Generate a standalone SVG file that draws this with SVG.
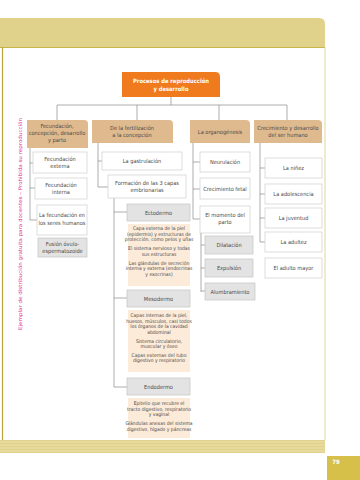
<svg xmlns="http://www.w3.org/2000/svg" width="360" height="480" viewBox="0 0 360 480">
<defs>
<style>
text{font-family:"Liberation Sans Narrow","DejaVu Sans Condensed","Liberation Sans",sans-serif;fill:#4a4a4a;text-anchor:middle;font-size:5.6px}
.l2{fill:#dfba8f}
.wb{fill:#fff;stroke:#cfcfcf;stroke-width:0.7}
.gb{fill:#e3e3e3;stroke:#c4c4c4;stroke-width:0.7}
.pk{fill:#fdebd9}
.c{stroke:#777;stroke-width:0.6;fill:none}
.t{fill:#fff;font-weight:bold;font-size:5.8px}
.p{font-size:5px}
</style>
</defs>
<rect width="360" height="480" fill="#fff"/>
<!-- page frame -->
<g id="frame">
<path d="M0 18 H319 Q325 18 325 24 V47 H0 Z" fill="#e0d28a"/>
<line x1="0" y1="47.5" x2="325" y2="47.5" stroke="#c9b44a" stroke-width="1"/>
<line x1="2.5" y1="47" x2="2.5" y2="440" stroke="#b8a640" stroke-width="1.2"/>
<line x1="325" y1="47" x2="325" y2="440" stroke="#e3d79c" stroke-width="1"/>
<rect x="0" y="440" width="325" height="13" fill="#e2d38c"/>
<g stroke="#efe6bb" stroke-width="0.7">
<line x1="0" y1="442" x2="325" y2="442"/><line x1="0" y1="445" x2="325" y2="445"/><line x1="0" y1="448" x2="325" y2="448"/><line x1="0" y1="451" x2="325" y2="451"/>
</g>
<rect x="327" y="456" width="33" height="24" fill="#d6c04a"/>
<text x="336" y="464" class="t" style="font-size:6px">79</text>
<text transform="translate(22 330) rotate(-90)" x="0" y="0" style="text-anchor:start;fill:#e0308a;font-size:5px" textLength="212" lengthAdjust="spacingAndGlyphs">Ejemplar de distribución gratuita para docentes – Prohibida su reproducción</text>
</g>
<!-- connectors -->
<g id="connectors" class="c">
<path d="M171 97 V105 M57 105 H287 M57 105 V120 M137 105 V120 M219 105 V120 M287 105 V120"/>
<path d="M30 148 V220 M30 163 H33 M30 188 H35 M30 220 H37"/>
<path d="M98 143 V187 M98 161 H102 M98 187 H108"/>
<path d="M114 198 V387 M114 212 H127 M114 298 H127 M114 387 H127"/>
<path d="M193 143 V219 M193 162 H200 M193 189 H200 M193 219 H200"/>
<path d="M201 233 V292 M201 245 H205 M201 268 H205 M201 291 H205"/>
<path d="M260 143 V242 M260 168 H265 M260 194 H265 M260 218 H265 M260 242 H265"/>
</g>
<!-- title -->
<g id="title">
<path d="M122 72 H215 Q220 72 220 77 V97 H122 Z" fill="#f07a1e"/>
<text x="171" y="83" class="t">Procesos de reproducción</text>
<text x="171" y="91" class="t">y desarrollo</text>
</g>
<!-- level 2 -->
<g id="fecundacion">
<path d="M27 120 H84 Q88 120 88 124 V148 H27 Z" class="l2"/>
<text x="57" y="128">Fecundación,</text><text x="57" y="135">concepción, desarrollo</text><text x="57" y="142">y parto</text>
</g>
<g id="fertilizacion">
<path d="M92 120 H169 Q173 120 173 124 V143 H92 Z" class="l2"/>
<text x="132" y="129.5">De la fertilización</text><text x="132" y="136.5">a la concepción</text>
</g>
<g id="organogenesis">
<path d="M190 120 H246 Q250 120 250 124 V143 H190 Z" class="l2"/>
<text x="220" y="133.5">La organogénesis</text>
</g>
<g id="crecimiento">
<path d="M254 120 H318 Q322 120 322 124 V143 H254 Z" class="l2"/>
<text x="288" y="129.5">Crecimiento y desarrollo</text><text x="288" y="136.5">del ser humano</text>
</g>
<!-- column 1 -->
<g id="externa"><rect x="33" y="152" width="54" height="21" class="wb"/><text x="60" y="160.5">Fecundación</text><text x="60" y="167.5">externa</text></g>
<g id="interna"><rect x="35" y="178" width="52" height="21" class="wb"/><text x="61" y="186.5">Fecundación</text><text x="61" y="193.5">interna</text></g>
<g id="humanos"><rect x="37" y="205" width="50" height="30" class="wb"/><text x="62" y="217">La fecundación en</text><text x="62" y="225">los seres humanos</text></g>
<g id="fusion"><rect x="38" y="238" width="49" height="19" class="gb"/><text x="62.5" y="246">Fusión óvulo-</text><text x="62.5" y="253">espermatozoide</text></g>
<!-- column 2 -->
<g id="gastrulacion"><rect x="102" y="152" width="80" height="18" class="wb"/><text x="142" y="163">La gastrulación</text></g>
<g id="capas"><rect x="108" y="175" width="78" height="23" class="wb"/><text x="147" y="184.5">Formación de las 3 capas</text><text x="147" y="191.5">embrionarias</text></g>
<g id="ectodermo"><rect x="127" y="204" width="63" height="17" class="gb"/><text x="158.5" y="214.5">Ectodermo</text></g>
<g id="ecto-txt"><rect x="128" y="224" width="62" height="62" class="pk"/>
<text x="159" y="230" class="p">Capa externa de la piel</text><text x="159" y="235.7" class="p">(epidermis) y estructuras de</text><text x="159" y="241.4" class="p">protección, como pelos y uñas</text>
<text x="159" y="250" class="p">El sistema nervioso y todas</text><text x="159" y="255.7" class="p">sus estructuras</text>
<text x="159" y="264.5" class="p">Las glándulas de secreción</text><text x="159" y="270.2" class="p">interna y externa (endocrinas</text><text x="159" y="275.9" class="p">y exocrinas)</text></g>
<g id="mesodermo"><rect x="127" y="290" width="63" height="17" class="gb"/><text x="158.5" y="300.5">Mesodermo</text></g>
<g id="meso-txt"><rect x="128" y="310" width="62" height="62" class="pk"/>
<text x="159" y="317" class="p">Capas internas de la piel,</text><text x="159" y="322.7" class="p">huesos, músculos, casi todos</text><text x="159" y="328.4" class="p">los órganos de la cavidad</text><text x="159" y="334.1" class="p">abdominal</text>
<text x="159" y="342.5" class="p">Sistema circulatorio,</text><text x="159" y="348.2" class="p">muscular y óseo</text>
<text x="159" y="356.5" class="p">Capas externas del tubo</text><text x="159" y="362.2" class="p">digestivo y respiratorio</text></g>
<g id="endodermo"><rect x="127" y="378" width="63" height="17" class="gb"/><text x="158.5" y="388.5">Endodermo</text></g>
<g id="endo-txt"><rect x="128" y="398" width="62" height="40" class="pk"/>
<text x="159" y="405" class="p">Epitelio que recubre el</text><text x="159" y="410.7" class="p">tracto digestivo, respiratorio</text><text x="159" y="416.4" class="p">y vaginal</text>
<text x="159" y="425" class="p">Glándulas anexas del sistema</text><text x="159" y="430.7" class="p">digestivo, hígado y páncreas</text></g>
<!-- column 3 -->
<g id="neurulacion"><rect x="200" y="152" width="50" height="20" class="wb"/><text x="225" y="164">Neurulación</text></g>
<g id="fetal"><rect x="200" y="178" width="50" height="21" class="wb"/><text x="225" y="190.5">Crecimiento fetal</text></g>
<g id="parto"><rect x="200" y="206" width="50" height="27" class="wb"/><text x="225" y="216.5">El momento del</text><text x="225" y="224">parto</text></g>
<g id="dilatacion"><rect x="205" y="236" width="48" height="18" class="gb"/><text x="229" y="247">Dilatación</text></g>
<g id="expulsion"><rect x="205" y="259" width="48" height="18" class="gb"/><text x="229" y="270">Expulsión</text></g>
<g id="alumbramiento"><rect x="205" y="283" width="50" height="17" class="gb"/><text x="230" y="293.5">Alumbramiento</text></g>
<!-- column 4 -->
<g id="ninez"><rect x="265" y="158" width="57" height="20" class="wb"/><text x="293.5" y="170">La niñez</text></g>
<g id="adolescencia"><rect x="265" y="184" width="57" height="20" class="wb"/><text x="293.5" y="196">La adolescencia</text></g>
<g id="juventud"><rect x="265" y="208" width="57" height="20" class="wb"/><text x="293.5" y="220">La juventud</text></g>
<g id="adultez"><rect x="265" y="232" width="57" height="20" class="wb"/><text x="293.5" y="244">La adultez</text></g>
<g id="mayor"><rect x="265" y="258" width="57" height="20" class="wb"/><text x="293.5" y="270">El adulto mayor</text></g>
</svg>
